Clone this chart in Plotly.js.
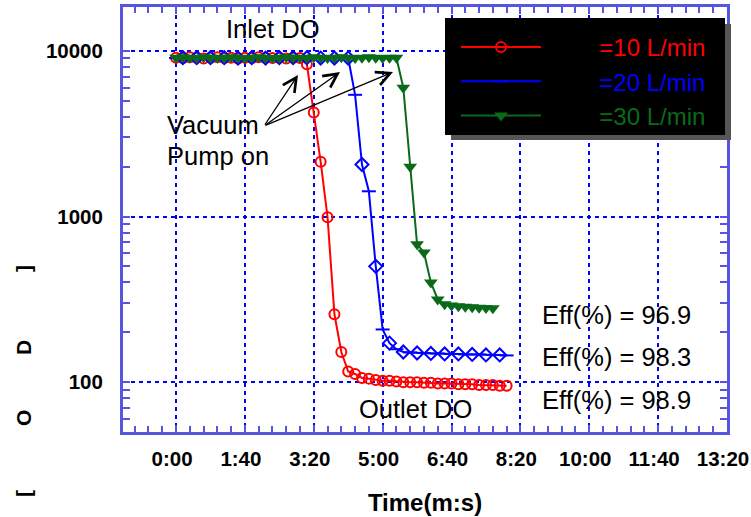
<!DOCTYPE html>
<html>
<head>
<meta charset="utf-8">
<script src="https://cdn.plot.ly/plotly-3.0.1.min.js"></script>
<style>html,body{margin:0;padding:0;background:#fff;}#chart{width:751px;height:517px;}</style>
</head>
<body>
<div id="chart"></div>
<script>
// ---- data (time in seconds, DO values) ----
const timeRed = [0,10,20,30,40,50,60,70,80,90,100,110,120,130,140,150,160,170,180,190,200,210,220,230,240,250,260,270,280,290,300,310,320,330,340,350,360,370,380,390,400,410,420,430,440,450,460,470,480];
const doRed = [9100,9050,9150,9100,9000,9100,9150,9050,9100,9000,9100,9050,9150,9100,9050,9100,9000,9100,9050,8300,4240,2140,990,257,152,116,112,106,105,103,102,102,101,100,100,100,99,99,98,98,98,97,97,97,96,96,96,95,95];

const timeBlue = [0,10,20,30,40,50,60,70,80,90,100,110,120,130,140,150,160,170,180,190,200,210,220,230,240,250,260,270,280,290,300,310,320,330,340,350,360,370,380,390,400,410,420,430,440,450,460,470,480];
const doBlue = [9050,9100,9150,9100,9050,9100,9000,9100,9150,9050,9100,9100,9000,9050,9150,9100,9050,9100,9000,9100,9150,9050,9100,9050,9100,9050,5430,2060,1420,500,208,172,158,152,151,150,150,149,149,148,148,148,147,147,147,146,146,146,145];

const timeGreen = [0,10,20,30,40,50,60,70,80,90,100,110,120,130,140,150,160,170,180,190,200,210,220,230,240,250,260,270,280,290,300,310,320,330,340,350,360,370,380,390,400,410,420,430,440,450,460];
const doGreen = [9100,9150,9100,9050,9150,9100,9100,9050,9150,9100,9050,9100,9150,9100,9050,9100,9150,9100,9100,9050,9150,9100,9050,9100,9150,9100,9050,9100,9150,9100,9050,9100,9100,5990,2000,680,607,400,316,295,290,287,285,283,281,280,279];

const seriesNames = ['=10 L/min', '=20 L/min', '=30 L/min'];
const xTickVals = [0,100,200,300,400,500,600,700,800];
const xTickText = ['0:00','1:40','3:20','5:00','6:40','8:20','10:00','11:40','13:20'];
const yTickVals = [100,1000,10000];
const yTickText = ['100','1000','10000'];
const yMinorVals = [60,70,80,90,200,300,400,500,600,700,800,900,2000,3000,4000,5000,6000,7000,8000,9000];
const effLabels = ['Eff(%) = 96.9','Eff(%) = 98.3','Eff(%) = 98.9'];
const yTitleChars = ['[','O','D',']'];

// ---- layout helpers (pixel -> paper) ----
const L = 123, R = 727, T = 7, B = 432;
const PX = p => (p - L) / (R - L);
const PY = p => (B - p) / (B - T);

const FONT = 'Liberation Sans, Arial, sans-serif';
const RED = '#ff0000', BLUE = '#0000ff', GREEN = '#0a6a1a';
const FRAME = '#5555e0';
const pad = '\u00a0\u00a0\u00a0\u00a0\u00a0\u00a0\u00a0\u00a0';

const blueSymbols = doBlue.map((v, i) => (i % 2 === 0 ? 'line-ew' : 'diamond-open'));

const traces = [
  {
    x: timeRed, y: doRed, type: 'scatter', mode: 'lines+markers',
    name: pad + '<span style="color:' + RED + '">' + seriesNames[0] + '</span>',
    line: {color: RED, width: 2},
    marker: {symbol: 'circle-open', size: 10, color: RED, line: {color: RED, width: 2}}
  },
  {
    x: timeBlue, y: doBlue, type: 'scatter', mode: 'lines+markers',
    name: pad + '<span style="color:' + BLUE + '">' + seriesNames[1] + '</span>',
    line: {color: BLUE, width: 2},
    marker: {symbol: blueSymbols, size: 10, color: BLUE, line: {color: BLUE, width: 2}}
  },
  {
    x: timeGreen, y: doGreen, type: 'scatter', mode: 'lines+markers',
    name: pad + '<span style="color:' + GREEN + '">' + seriesNames[2] + '</span>',
    line: {color: GREEN, width: 2},
    marker: {symbol: 'triangle-down', size: 12, color: GREEN, line: {color: GREEN, width: 0}}
  }
];

const annFont = {family: FONT, size: 25.5, color: '#000'};
const annotations = [
  {xref: 'paper', yref: 'paper', x: PX(273), y: PY(29), text: 'Inlet DO', showarrow: false, font: annFont, xanchor: 'center', yanchor: 'middle'},
  {xref: 'paper', yref: 'paper', x: PX(415), y: PY(409), text: 'Outlet DO', showarrow: false, font: annFont, xanchor: 'center', yanchor: 'middle'},
  {xref: 'paper', yref: 'paper', x: PX(165), y: PY(125), text: 'Vacuum', showarrow: false, font: annFont, xanchor: 'left', yanchor: 'middle'},
  {xref: 'paper', yref: 'paper', x: PX(165), y: PY(156), text: 'Pump on', showarrow: false, font: annFont, xanchor: 'left', yanchor: 'middle'},
  {xref: 'paper', yref: 'paper', x: PX(540), y: PY(315), text: effLabels[0], showarrow: false, font: annFont, xanchor: 'left', yanchor: 'middle'},
  {xref: 'paper', yref: 'paper', x: PX(540), y: PY(357), text: effLabels[1], showarrow: false, font: annFont, xanchor: 'left', yanchor: 'middle'},
  {xref: 'paper', yref: 'paper', x: PX(540), y: PY(400), text: effLabels[2], showarrow: false, font: annFont, xanchor: 'left', yanchor: 'middle'}
];
// arrows
const arrowTail = [264, 126];
[[298, 75], [340, 72], [393, 72]].forEach(h => {
  annotations.push({
    xref: 'paper', yref: 'paper', x: PX(h[0]), y: PY(h[1]), text: '',
    showarrow: true, arrowhead: 5, arrowsize: 2.1, arrowwidth: 1.3, arrowcolor: '#000',
    ax: arrowTail[0] - h[0], ay: arrowTail[1] - h[1], standoff: 0, startstandoff: 0
  });
});
// y axis title glyphs
[493, 418, 347, 268].forEach((py, i) => {
  annotations.push({
    xref: 'paper', yref: 'paper', x: PX(23), y: PY(py), text: yTitleChars[i], showarrow: false,
    textangle: -90, xanchor: 'center', yanchor: 'middle',
    font: {family: FONT, size: 21, color: '#000', weight: 'bold'}
  });
});

const shapes = [
  {type: 'rect', xref: 'paper', yref: 'paper', x0: PX(451), x1: PX(731), y0: PY(24), y1: PY(140), fillcolor: '#555555', line: {width: 0}, layer: 'above'},
  {type: 'rect', xref: 'paper', yref: 'paper', x0: PX(445), x1: PX(725), y0: PY(18), y1: PY(135), fillcolor: '#000000', line: {width: 0}, layer: 'above'}
];

const layout = {
  width: 751, height: 517,
  margin: {l: L, r: 751 - R, t: T, b: 517 - B, pad: 0},
  paper_bgcolor: '#fff', plot_bgcolor: '#fff',
  font: {family: FONT, color: '#000'},
  showlegend: true,
  legend: {
    x: PX(456), y: PY(25), xanchor: 'left', yanchor: 'top',
    bgcolor: 'rgba(0,0,0,0)', borderwidth: 0,
    font: {family: FONT, size: 24, color: '#fff'},
    itemwidth: 80, tracegroupgap: 0, traceorder: 'normal'
  },
  xaxis: {
    range: [-77, 800],
    tickmode: 'array', tickvals: xTickVals, ticktext: xTickText,
    ticks: 'inside', ticklen: 7, tickwidth: 2, tickcolor: FRAME,
    showline: true, linewidth: 3, linecolor: FRAME, mirror: 'ticks',
    showgrid: true, gridcolor: BLUE, gridwidth: 2, griddash: '4px,4px',
    zeroline: false,
    tickfont: {family: FONT, size: 20.5, color: '#000', weight: 'bold'},
    ticklabelstandoff: 6, ticklabelshift: -4, ticklabeloverflow: 'allow',
    minor: {dtick: 20, tick0: 0, ticks: 'inside', ticklen: 6, tickwidth: 2, tickcolor: FRAME, showgrid: false},
    title: {text: 'Time(m:s)', font: {family: FONT, size: 24, color: '#000', weight: 'bold'}, standoff: 26}
  },
  yaxis: {
    type: 'log', range: [Math.log10(50), 4.265],
    tickmode: 'array', tickvals: yTickVals, ticktext: yTickText,
    ticks: 'inside', ticklen: 7, tickwidth: 2, tickcolor: FRAME,
    showline: true, linewidth: 3, linecolor: FRAME, mirror: 'ticks',
    showgrid: true, gridcolor: BLUE, gridwidth: 2, griddash: '4px,4px',
    zeroline: false,
    tickfont: {family: FONT, size: 20.5, color: '#000', weight: 'bold'},
    ticklabelstandoff: 13,
    minor: {tickmode: 'array', tickvals: yMinorVals, ticks: 'inside', ticklen: 7, tickwidth: 2, tickcolor: FRAME, showgrid: false}
  },
  annotations: annotations,
  shapes: shapes
};

Plotly.newPlot('chart', traces, layout, {displayModeBar: false, staticPlot: true});
</script>
</body>
</html>
